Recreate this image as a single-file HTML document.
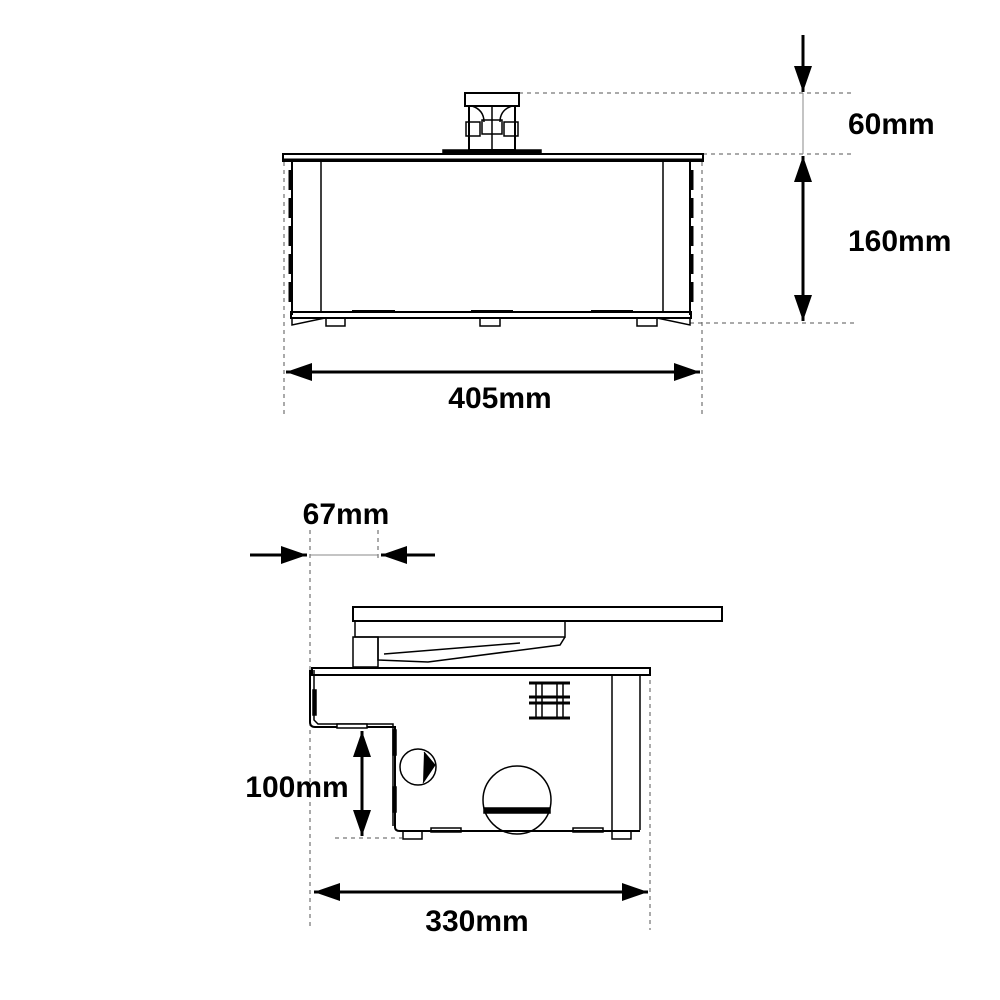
<!DOCTYPE html>
<html><head><style>body{margin:0;background:#fff}svg{display:block}text{font-family:"Liberation Sans",sans-serif;font-weight:bold;font-size:30px;fill:#000}</style></head><body>
<svg width="1000" height="1000" viewBox="0 0 1000 1000" xmlns="http://www.w3.org/2000/svg">
<defs>
<marker id="a" markerWidth="26" markerHeight="20" refX="26" refY="10" orient="auto-start-reverse" markerUnits="userSpaceOnUse" viewBox="0 0 26 20"><path d="M0,1 L26,10 L0,19z" fill="#000"/></marker>
</defs>
<g fill="none" stroke="#000">
<g stroke-dasharray="4,4" stroke-width="1" stroke="#555">
<line x1="519" y1="93" x2="855" y2="93"/><line x1="703" y1="154" x2="855" y2="154"/><line x1="690" y1="323" x2="855" y2="323"/>
<line x1="284" y1="162" x2="284" y2="415"/><line x1="702" y1="162" x2="702" y2="415"/>
<line x1="310" y1="530" x2="310" y2="930"/><line x1="378" y1="530" x2="378" y2="560"/><line x1="650" y1="672" x2="650" y2="930"/>
<line x1="335" y1="838" x2="402" y2="838"/>
</g>
<g stroke-width="1.5">
<rect x="465" y="93" width="54" height="13" stroke-width="2"/>
<rect x="469" y="106" width="46" height="44" stroke-width="2"/>
<line x1="492" y1="106" x2="492" y2="150"/>
<path d="M472,106 Q484,110 484,122 M512,106 Q500,110 500,122"/>
<rect x="466" y="122" width="14" height="14"/><rect x="504" y="122" width="14" height="14"/>
<rect x="482" y="120" width="20" height="14"/>
<rect x="443" y="150" width="98" height="4" fill="#000"/>
<rect x="283" y="154" width="420" height="7" stroke-width="2"/>
<line x1="283" y1="160" x2="703" y2="160" stroke-width="3"/>
<line x1="292" y1="161" x2="292" y2="315" stroke-width="2"/>
<line x1="690" y1="161" x2="690" y2="315" stroke-width="2"/>
<line x1="321" y1="161" x2="321" y2="313"/><line x1="663" y1="161" x2="663" y2="313"/>
<rect x="291" y="312" width="400" height="6" stroke-width="2"/>
<path d="M292,318 L292,325 L325,318 M690,318 L690,325 L657,318"/>
<rect x="326" y="318" width="19" height="8"/><rect x="480" y="318" width="20" height="8"/><rect x="637" y="318" width="20" height="8"/>
<line x1="352" y1="311" x2="395" y2="311" stroke-width="2"/><line x1="471" y1="311" x2="513" y2="311" stroke-width="2"/><line x1="591" y1="311" x2="633" y2="311" stroke-width="2"/>
<line x1="290" y1="170" x2="290" y2="305" stroke-width="3" stroke-dasharray="20,8"/>
<line x1="692" y1="170" x2="692" y2="305" stroke-width="3" stroke-dasharray="20,8"/>
</g>
<g stroke-width="1.5">
<rect x="353" y="607" width="369" height="14" stroke-width="2"/>
<rect x="355" y="621" width="210" height="16"/>
<rect x="353" y="637" width="25" height="30"/>
<path d="M378,637 L378,660 L428,662 L560,645 L565,637" />
<line x1="384" y1="654" x2="520" y2="643"/>
<rect x="312" y="668" width="338" height="7" stroke-width="2"/>
<line x1="312" y1="675" x2="650" y2="675" stroke-width="2"/>
<line x1="612" y1="675" x2="612" y2="830"/><line x1="640" y1="675" x2="640" y2="830"/>
<path d="M310,670 L310,722 Q310,727 315,727 L395,727 L395,827 Q395,831 400,831 L640,831" stroke-width="2"/>
<path d="M314,670 L314,720 L318,724 L393,724 L393,826"/>
<rect x="337" y="724" width="30" height="4" fill="#fff"/><rect x="431" y="828" width="30" height="4"/><rect x="573" y="828" width="30" height="4"/>
<rect x="313" y="690" width="3" height="25" fill="#000"/><rect x="393" y="730" width="3" height="25" fill="#000"/><rect x="393" y="787" width="3" height="25" fill="#000"/>
<rect x="403" y="831" width="19" height="8"/><rect x="612" y="831" width="19" height="8"/>
<circle cx="418" cy="767" r="18"/>
<path d="M424,752 L435,765 L423,783" fill="#000" stroke-width="1"/>
<circle cx="517" cy="800" r="34"/>
<rect x="484" y="808" width="66" height="5" fill="#000"/>
<g stroke-width="3"><line x1="529" y1="683" x2="570" y2="683"/><line x1="529" y1="697" x2="570" y2="697"/><line x1="529" y1="703" x2="570" y2="703"/><line x1="529" y1="718" x2="570" y2="718"/></g>
<line x1="536" y1="683" x2="536" y2="718"/><line x1="563" y1="683" x2="563" y2="718"/><line x1="542" y1="683" x2="542" y2="718"/><line x1="557" y1="683" x2="557" y2="718"/>
</g>
<g stroke-width="3">
<line x1="803" y1="35" x2="803" y2="92" marker-end="url(#a)"/>
<line x1="803" y1="156" x2="803" y2="321" marker-start="url(#a)" marker-end="url(#a)"/>
<line x1="286" y1="372" x2="700" y2="372" marker-start="url(#a)" marker-end="url(#a)"/>
<line x1="250" y1="555" x2="307" y2="555" marker-end="url(#a)"/>
<line x1="435" y1="555" x2="381" y2="555" marker-end="url(#a)"/>
<line x1="362" y1="731" x2="362" y2="836" marker-start="url(#a)" marker-end="url(#a)"/>
<line x1="314" y1="892" x2="648" y2="892" marker-start="url(#a)" marker-end="url(#a)"/>
</g>
<line x1="803" y1="93" x2="803" y2="154" stroke-width="1" stroke="#888"/>
<line x1="310" y1="555" x2="378" y2="555" stroke-width="1" stroke="#888"/>
</g>
<g style="stroke:none">
<text x="848" y="134">60mm</text>
<text x="848" y="251">160mm</text>
<text x="500" y="408" text-anchor="middle">405mm</text>
<text x="346" y="524" text-anchor="middle">67mm</text>
<text x="297" y="797" text-anchor="middle">100mm</text>
<text x="477" y="931" text-anchor="middle">330mm</text>
</g>
</svg>
</body></html>
